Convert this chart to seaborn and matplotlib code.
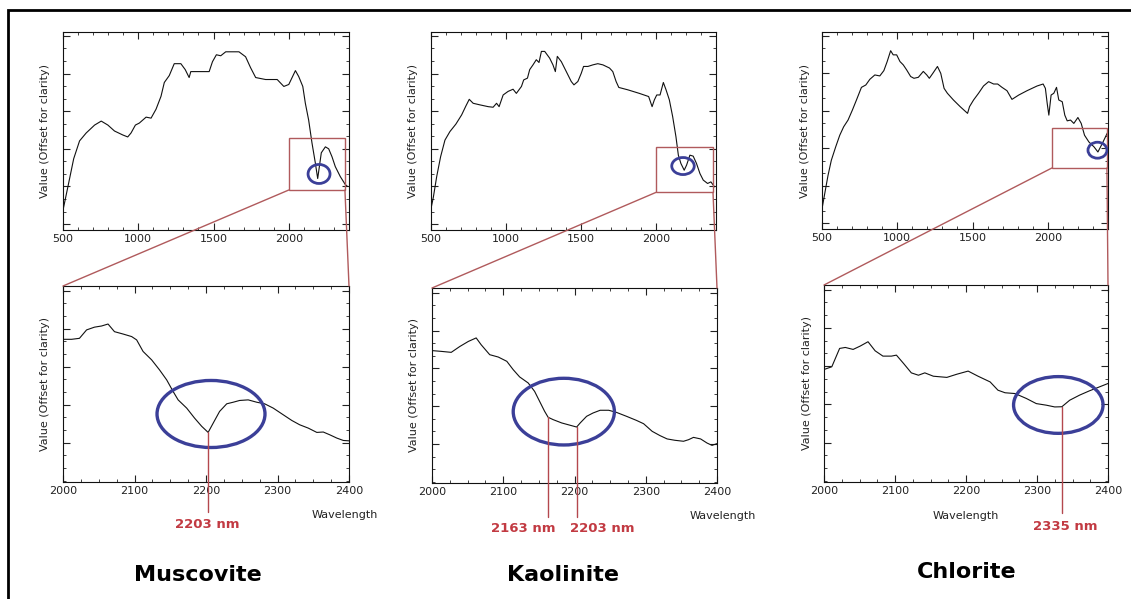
import numpy as np
import matplotlib
matplotlib.use("Agg")
import matplotlib.pyplot as plt
import seaborn as sns
from matplotlib.patches import Ellipse, Rectangle, ConnectionPatch
from matplotlib.ticker import MultipleLocator, FixedLocator

# ---------------- data ----------------
# full spectra (500-2400 nm), value as fraction of the plot height
musc_wl = [500, 533, 571, 610, 654, 710, 754, 798, 842, 897, 930, 952, 981, 1007, 1052, 1085,
           1118, 1151, 1173, 1206, 1239, 1283, 1312, 1338, 1349, 1404, 1471, 1493, 1519, 1548,
           1581, 1625, 1669, 1713, 1746, 1780, 1846, 1923, 1967, 2000, 2022, 2044, 2066, 2093,
           2110, 2132, 2154, 2176, 2192, 2216, 2243, 2265, 2287, 2309, 2342, 2375, 2390]
musc_val = [0.10, 0.22, 0.36, 0.45, 0.49, 0.53, 0.55, 0.53, 0.50, 0.48, 0.47, 0.49, 0.53, 0.54,
            0.57, 0.565, 0.61, 0.675, 0.745, 0.78, 0.84, 0.84, 0.81, 0.77, 0.80, 0.80, 0.80,
            0.85, 0.885, 0.88, 0.90, 0.90, 0.90, 0.875, 0.82, 0.77, 0.76, 0.76, 0.725, 0.735,
            0.77, 0.805, 0.775, 0.725, 0.64, 0.555, 0.44, 0.34, 0.26, 0.39, 0.42, 0.41, 0.37,
            0.32, 0.27, 0.23, 0.22]

kaol_wl = [500, 516, 538, 564, 593, 626, 666, 704, 733, 755, 781, 826, 881, 914, 937, 954, 981,
           1014, 1047, 1069, 1103, 1118, 1143, 1158, 1180, 1202, 1220, 1236, 1258, 1291, 1313,
           1329, 1342, 1369, 1402, 1435, 1453, 1479, 1502, 1517, 1546, 1579, 1612, 1646, 1668,
           1690, 1712, 1734, 1752, 1812, 1889, 1951, 1974, 1989, 2005, 2027, 2049, 2067, 2089,
           2111, 2133, 2149, 2166, 2188, 2204, 2226, 2248, 2270, 2293, 2315, 2344, 2366, 2390]
kaol_val = [0.108, 0.167, 0.27, 0.37, 0.454, 0.497, 0.535, 0.581, 0.627, 0.66, 0.64, 0.632,
            0.623, 0.62, 0.64, 0.623, 0.682, 0.70, 0.711, 0.69, 0.725, 0.758, 0.767, 0.81,
            0.834, 0.86, 0.846, 0.902, 0.902, 0.868, 0.834, 0.80, 0.877, 0.85, 0.80, 0.75,
            0.733, 0.75, 0.792, 0.826, 0.826, 0.834, 0.84, 0.834, 0.826, 0.818, 0.80, 0.75,
            0.72, 0.708, 0.69, 0.674, 0.623, 0.657, 0.682, 0.682, 0.745, 0.708, 0.657, 0.573,
            0.471, 0.378, 0.336, 0.302, 0.328, 0.378, 0.373, 0.336, 0.285, 0.252, 0.235,
            0.243, 0.218]

chlo_wl = [500, 518, 540, 562, 591, 618, 644, 673, 702, 729, 762, 791, 818, 851, 884, 911, 933,
           956, 973, 996, 1018, 1040, 1062, 1089, 1111, 1140, 1173, 1196, 1213, 1236, 1267,
           1289, 1311, 1333, 1373, 1418, 1467, 1480, 1507, 1540, 1573, 1607, 1640, 1667, 1696,
           1729, 1762, 1807, 1862, 1929, 1969, 1984, 1996, 2007, 2022, 2040, 2058, 2073, 2096,
           2113, 2129, 2151, 2173, 2200, 2222, 2244, 2273, 2307, 2333, 2362, 2396]
chlo_val = [0.102, 0.179, 0.272, 0.349, 0.417, 0.476, 0.519, 0.553, 0.604, 0.655, 0.719,
            0.731, 0.76, 0.782, 0.777, 0.804, 0.85, 0.905, 0.884, 0.884, 0.85, 0.833, 0.808,
            0.774, 0.765, 0.77, 0.80, 0.782, 0.765, 0.79, 0.825, 0.79, 0.714, 0.689, 0.655,
            0.621, 0.587, 0.621, 0.655, 0.689, 0.726, 0.748, 0.736, 0.736, 0.719, 0.702,
            0.658, 0.68, 0.702, 0.726, 0.736, 0.714, 0.638, 0.578, 0.68, 0.689, 0.719, 0.655,
            0.646, 0.578, 0.549, 0.553, 0.536, 0.566, 0.536, 0.476, 0.442, 0.417, 0.391,
            0.434, 0.488]

# detail spectra (2000-2400 nm)
musc_z_wl = [2000, 2012, 2023, 2033, 2044, 2054, 2063, 2072, 2084, 2096, 2103, 2112, 2124, 2135,
             2145, 2154, 2161, 2173, 2184, 2194, 2203, 2210, 2219, 2229, 2238, 2247, 2259, 2271,
             2282, 2294, 2308, 2320, 2331, 2343, 2355, 2364, 2373, 2383, 2392, 2400]
musc_z_val = [0.728, 0.728, 0.733, 0.776, 0.79, 0.796, 0.806, 0.767, 0.755, 0.742, 0.725,
              0.666, 0.623, 0.572, 0.521, 0.462, 0.419, 0.377, 0.326, 0.284, 0.253, 0.30,
              0.36, 0.399, 0.407, 0.416, 0.419, 0.407, 0.399, 0.377, 0.343, 0.314, 0.292,
              0.275, 0.253, 0.255, 0.241, 0.224, 0.212, 0.21]

kaol_z_wl = [2000, 2013, 2027, 2039, 2051, 2062, 2069, 2081, 2093, 2105, 2114, 2123, 2135, 2144,
             2151, 2158, 2163, 2170, 2182, 2191, 2203, 2208, 2217, 2226, 2236, 2248, 2259, 2273,
             2287, 2297, 2309, 2320, 2330, 2341, 2353, 2360, 2367, 2377, 2386, 2393, 2400]
kaol_z_val = [0.679, 0.675, 0.67, 0.70, 0.726, 0.744, 0.709, 0.658, 0.646, 0.624, 0.581,
              0.544, 0.513, 0.47, 0.419, 0.368, 0.337, 0.325, 0.308, 0.299, 0.287, 0.308,
              0.342, 0.359, 0.373, 0.373, 0.362, 0.342, 0.321, 0.304, 0.265, 0.243, 0.226,
              0.219, 0.214, 0.222, 0.234, 0.226, 0.205, 0.193, 0.202]

chlo_z_wl = [2000, 2011, 2022, 2030, 2041, 2051, 2062, 2072, 2083, 2095, 2102, 2112, 2123, 2133,
             2142, 2154, 2173, 2187, 2203, 2217, 2234, 2245, 2255, 2269, 2285, 2299, 2313, 2325,
             2335, 2346, 2360, 2374, 2386, 2400]
chlo_z_val = [0.571, 0.585, 0.678, 0.683, 0.673, 0.69, 0.712, 0.666, 0.639, 0.639, 0.644,
              0.602, 0.554, 0.542, 0.554, 0.537, 0.531, 0.547, 0.563, 0.537, 0.508, 0.466,
              0.453, 0.449, 0.424, 0.398, 0.39, 0.381, 0.382, 0.415, 0.441, 0.463, 0.48, 0.50]

minerals = ["Muscovite", "Kaolinite", "Chlorite"]
features = [[2203], [2163, 2203], [2335]]
feature_labels = [["2203 nm"], ["2163 nm", "2203 nm"], ["2335 nm"]]

W, H = 1131, 599
BLACK = "#111111"
RED_LINE = "#b4484e"
RED_TEXT = "#c23a42"
BOX_RED = "#b05a5c"
BLUE = "#3b3f98"


def px_rect(l, t, r, b):
    return [l / W, 1 - b / H, (r - l) / W, (b - t) / H]


def style_axis(ax, xmajor, xminor, yfirst, ystep):
    ax.tick_params(which="both", direction="in", top=True, right=True,
                   labelleft=False, labelsize=8, pad=3, colors="#222222")
    ax.tick_params(which="major", length=5, width=0.8)
    ax.tick_params(which="minor", length=2.5, width=0.6)
    ax.xaxis.set_major_locator(MultipleLocator(xmajor))
    ax.xaxis.set_minor_locator(MultipleLocator(xminor))
    ax.yaxis.set_major_locator(FixedLocator(np.arange(yfirst, 1.0, ystep)))
    ax.yaxis.set_minor_locator(FixedLocator(np.arange(yfirst % (ystep / 3), 1.0, ystep / 3)))
    for sp in ax.spines.values():
        sp.set_linewidth(0.8)
        sp.set_color("#111111")
    ax.set_ylim(0, 1)
    ax.set_ylabel("Value (Offset for clarity)", fontsize=8, labelpad=9, color="#222222")
    ax.set_xlabel("")


sns.set_style("ticks")
plt.rcParams["font.family"] = ["DejaVu Sans"]

fig = plt.figure(figsize=(W / 100, H / 100), dpi=100)
fig.patch.set_facecolor("white")

top_pos = [(63, 32, 349, 230), (431, 32, 716, 230), (822, 32, 1108, 229)]
bot_pos = [(63, 286, 349, 482), (432, 288, 717, 483), (824, 285, 1108, 482)]

full = [(musc_wl, musc_val), (kaol_wl, kaol_val), (chlo_wl, chlo_val)]
zoom = [(musc_z_wl, musc_z_val), (kaol_z_wl, kaol_z_val), (chlo_z_wl, chlo_z_val)]

# zoom boxes on top panels: (x0, x1, y0, y1)
boxes = [(2000, 2373, 0.202, 0.465), (2000, 2380, 0.19, 0.42), (2028, 2393, 0.31, 0.513)]
# small circles on top panels: (x, y, w, h)
top_circles = [(2201, 0.283, 146, 0.096), (2180, 0.323, 150, 0.086), (2330, 0.40, 126, 0.081)]
# big ellipses on detail panels
bot_ellipses = [(2207, 0.347, 151, 0.342), (2185, 0.366, 142, 0.342), (2330, 0.391, 126, 0.288)]
line_bottom = [-0.153, -0.174, -0.157]
label_pos = [[(207, 525)], [(523, 528), (602, 528)], [(1065, 527)]]
wave_pos = [(345, 515), (723, 516), (966, 516)]
title_pos = [(198, 575), (563, 575), (967, 572)]

for i in range(3):
    axt = fig.add_axes(px_rect(*top_pos[i]))
    axb = fig.add_axes(px_rect(*bot_pos[i]))

    sns.lineplot(x=full[i][0], y=full[i][1], ax=axt, color=BLACK, lw=0.8, estimator=None)
    axt.set_xlim(500, 2400)
    style_axis(axt, 500, 100, 0.03, 0.19)

    sns.lineplot(x=zoom[i][0], y=zoom[i][1], ax=axb, color=BLACK, lw=0.8, estimator=None)
    axb.set_xlim(2000, 2400)
    style_axis(axb, 100, 25, 0.2, 0.194)

    x0, x1, y0, y1 = boxes[i]
    axt.add_patch(Rectangle((x0, y0), x1 - x0, y1 - y0, fill=False, ec=BOX_RED, lw=1.0,
                            zorder=3))
    cx, cy, cw, ch = top_circles[i]
    axt.add_patch(Ellipse((cx, cy), cw, ch, fill=False, ec=BLUE, lw=2.0, zorder=4))
    cx, cy, cw, ch = bot_ellipses[i]
    axb.add_patch(Ellipse((cx, cy), cw, ch, fill=False, ec=BLUE, lw=2.4, zorder=4))

    for xyA, xyB in [((x0, y0), (0, 1)), ((x1, y0), (1, 1))]:
        con = ConnectionPatch(xyA=xyA, coordsA=axt.transData, xyB=xyB,
                              coordsB=axb.transAxes, color=BOX_RED, lw=1.0)
        fig.add_artist(con)

    for feat, lab, (lx, ly) in zip(features[i], feature_labels[i], label_pos[i]):
        yv = np.interp(feat, zoom[i][0], zoom[i][1])
        axb.plot([feat, feat], [yv, line_bottom[i]], color=RED_LINE, lw=1.0,
                 transform=axb.get_xaxis_transform(), clip_on=False, zorder=5)
        fig.text(lx / W, 1 - ly / H, lab, color=RED_TEXT, fontsize=9.5, fontweight="bold",
                 ha="center", va="center")

    wx, wy = wave_pos[i]
    fig.text(wx / W, 1 - wy / H, "Wavelength", fontsize=8, color="#222222",
             ha="center", va="center")
    tx, ty = title_pos[i]
    fig.text(tx / W, 1 - ty / H, minerals[i], fontsize=16, fontweight="bold",
             color="black", ha="center", va="center")

# outer frame (only top and left edges visible in the original crop)
fig.add_artist(Rectangle((8 / W, -0.2), 2, 1.2 - 10 / H, transform=fig.transFigure,
                         fill=False, ec="black", lw=2.0))

fig.savefig("out.png", dpi=100, facecolor="white")
